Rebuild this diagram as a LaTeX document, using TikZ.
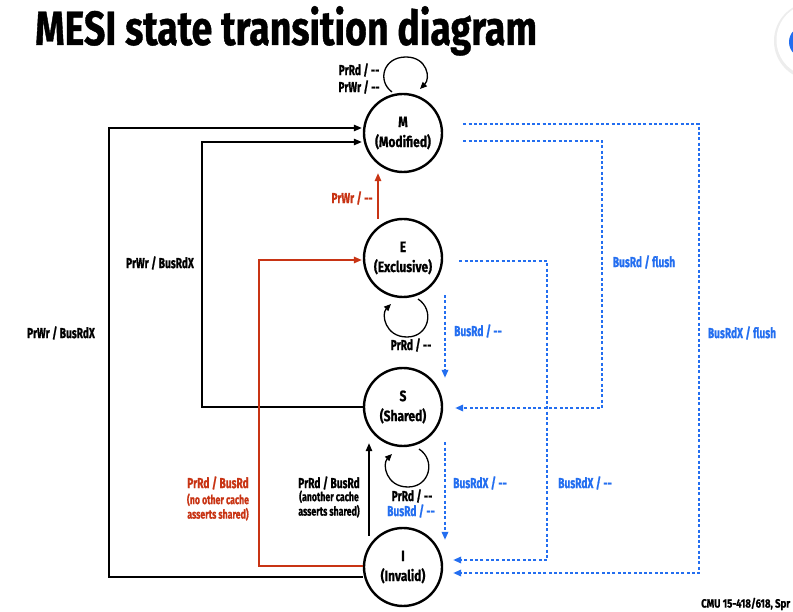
\documentclass[tikz,border=0pt]{standalone}
\usepackage{fontspec}
\setmainfont{Fira Sans}[FakeStretch=0.7,BoldFeatures={FakeBold=0.8}]
\newfontfamily\titlefont{Fira Sans}[FakeStretch=0.78,BoldFeatures={FakeBold=0.8}]
\newfontfamily\statefont{Fira Sans}[FakeStretch=0.8,BoldFeatures={FakeBold=0.8}]
\usetikzlibrary{arrows.meta,calc}
\definecolor{mred}{RGB}{200,52,20}
\definecolor{mblue}{RGB}{35,110,240}
\newcommand\dd{-{}-}
\tikzset{
  state/.style={circle,draw,line width=2.4pt,minimum size=78pt,inner sep=0pt,align=center,font=\statefont\bfseries\fontsize{15}{20}\selectfont},
  lab/.style={font=\bfseries\fontsize{14.5}{15}\selectfont,inner sep=0pt},
  small/.style={font=\bfseries\fontsize{12.5}{14.5}\selectfont,align=center,inner sep=0pt},
  tip/.style={-{Triangle[length=8pt,width=6.5pt]}},
  blk/.style={line width=1.3pt,tip},
  redarr/.style={mred,line width=1.5pt,tip},
  bluarr/.style={mblue,line width=1.8pt,dash pattern=on 3pt off 2.3pt,tip},
  looparr/.style={line width=1.3pt,-{Triangle[length=7pt,width=6pt]}}
}
\begin{document}
\begin{tikzpicture}[x=1pt,y=-1pt]
\useasboundingbox (0,0) rectangle (793,612);
\clip (0,0) rectangle (793,612);
\fill[white] (0,0) rectangle (793,612);
% partial icon top right
\fill[black!7] (813,41) circle[radius=39pt];
\fill[white] (813,40) circle[radius=36.5pt];
\fill[mblue] (805,42) circle[radius=16pt];

\node[anchor=base west,font=\titlefont\bfseries\fontsize{48}{52}\selectfont,inner sep=0pt] (title) at (35,45) {MESI state transition diagram};

\node[state] (M) at (403,133) {M\\(Modified)};
\node[state] (E) at (403,258) {E\\(Exclusive)};
\node[state] (S) at (403,407) {S\\(Shared)};
\node[state] (I) at (403,567) {I\\(Invalid)};

\coordinate (cx1) at (109,0);
\coordinate (cx2) at (202,0);
\coordinate (cx3) at (259,0);
\coordinate (cx4) at (547,0);
\coordinate (cx5) at (602,0);
\coordinate (cx6) at (699,0);

% black
\coordinate (i1) at ([yshift=-10pt]I.west);
\coordinate (m1) at ([yshift=5pt,xshift=-1pt]M.west);
\draw[blk] (i1) -- (i1 -| cx1) |- (m1);
\coordinate (s1) at (S.west);
\coordinate (m2) at ([yshift=-9pt,xshift=-1pt]M.west);
\draw[blk] (s1) -- (s1 -| cx2) |- (m2);
\draw[blk] ([xshift=-34pt,yshift=-9pt]I.north) -- ([xshift=-34pt,yshift=4pt]S.south);

% red
\coordinate (i2) at ([yshift=1pt]I.west);
\coordinate (e1) at ([yshift=-2pt,xshift=-1pt]E.west);
\draw[redarr] (i2) -- (i2 -| cx3) |- (e1);
\draw[redarr] ([xshift=-25pt,yshift=-1pt]E.north) -- ([xshift=-25pt]M.south);

% blue
\coordinate (m3) at ([xshift=20pt,yshift=9pt]M.east);
\coordinate (i3) at ([xshift=10pt,yshift=-6pt]I.east);
\draw[bluarr] (m3) -- (m3 -| cx6) |- (i3);
\coordinate (m4) at ([xshift=20pt,yshift=-8pt]M.east);
\coordinate (s3) at ([xshift=12pt,yshift=-1pt]S.east);
\draw[bluarr] (m4) -- (m4 -| cx5) |- (s3);
\coordinate (e3) at ([xshift=16pt,yshift=-3pt]E.east);
\coordinate (i4) at ([xshift=10pt,yshift=7pt]I.east);
\draw[bluarr] (e3) -- (e3 -| cx4) |- (i4);
\draw[bluarr] ([xshift=42pt,yshift=3pt]E.south) -- ([xshift=42pt,yshift=-11pt]S.north);
\draw[bluarr] ([xshift=42pt,yshift=5pt]S.south) -- ([xshift=42pt,yshift=-13pt]I.north);

% self loops
\draw[looparr] ($(M)+(-11,-41)$) .. controls ($(M)+(-26,-52)$) and ($(M)+(-20,-76)$) .. ($(M)+(3,-76)$) .. controls ($(M)+(24,-76)$) and ($(M)+(28,-55)$) .. ($(M)+(17,-44)$);
\draw[looparr] ($(E)+(15,41)$) .. controls ($(E)+(32,52)$) and ($(E)+(26,79)$) .. ($(E)+(4,79)$) .. controls ($(E)+(-18,79)$) and ($(E)+(-22,56)$) .. ($(E)+(-12,46)$);
\draw[looparr] ($(S)+(16,42)$) .. controls ($(S)+(33,53)$) and ($(S)+(27,80)$) .. ($(S)+(5,80)$) .. controls ($(S)+(-17,80)$) and ($(S)+(-21,57)$) .. ($(S)+(-11,47)$);

% labels
\node[lab] (lm1) at (359,70) {PrRd / \dd};
\node[lab] (lm2) at (359,87) {PrWr / \dd};
\node[lab,mred] (lem) at (352,198) {PrWr / \dd};
\node[lab] (lsm) at (160,263) {PrWr / BusRdX};
\node[lab] (lim) at (61,333) {PrWr / BusRdX};
\node[lab,mblue] (lms) at (644,262) {BusRd / flush};
\node[lab,mblue] (lmi) at (742,333) {BusRdX / flush};
\node[lab] (lee) at (411,345) {PrRd / \dd};
\node[lab,mblue] (les) at (478,331) {BusRd / \dd};
\node[lab,mred] (lie) at (218,483) {PrRd / BusRd};
\node[small,mred] (lie2) at (218,507) {(no other cache\\asserts shared)};
\node[lab] (lis) at (329,483) {PrRd / BusRd};
\node[small] (lis2) at (329,504) {(another cache\\asserts shared)};
\node[lab] (lss1) at (412,496) {PrRd / \dd};
\node[lab,mblue] (lss2) at (411,511) {BusRd / \dd};
\node[lab,mblue] (lsi) at (480,483) {BusRdX / \dd};
\node[lab,mblue] (lei) at (585,483) {BusRdX / \dd};
\node[anchor=west,font=\statefont\bfseries\fontsize{12}{13}\selectfont,inner sep=0pt] (foot) at (701,604) {CMU 15-418/618, Spr};
\end{tikzpicture}
\end{document}
